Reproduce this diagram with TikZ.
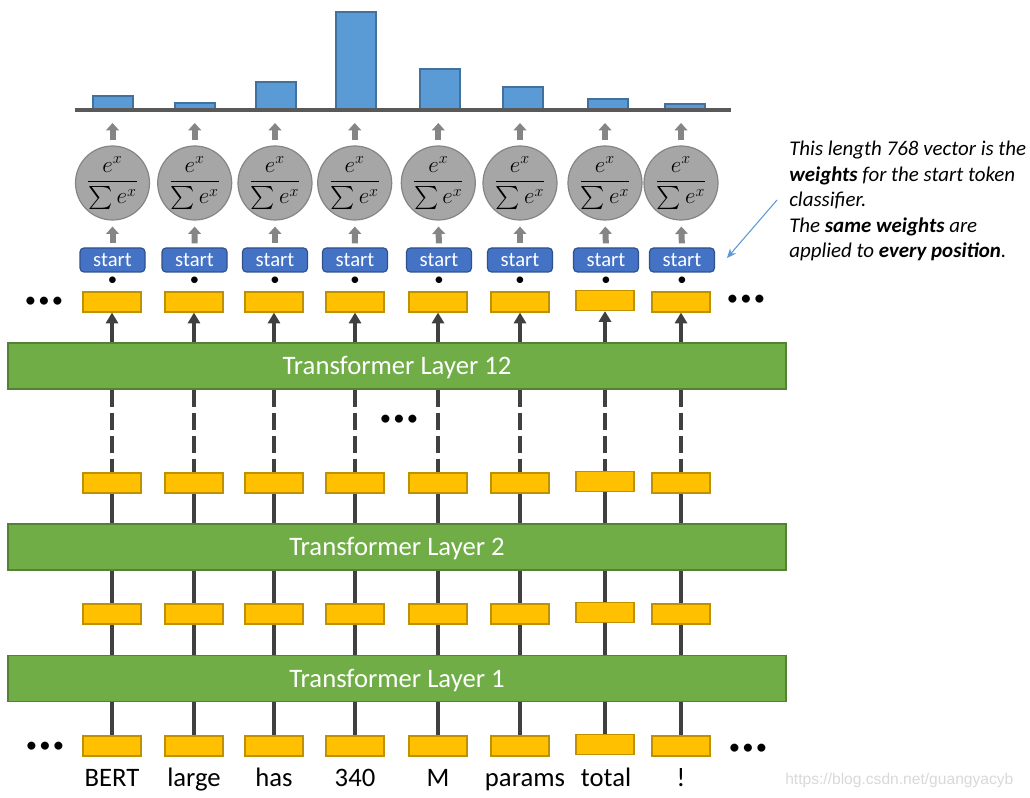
\documentclass[tikz,border=0pt]{standalone}
\usepackage{amsmath}
\usepackage{fontspec}
\setmainfont{Carlito}
\newfontfamily\wmfont{Liberation Sans}
\usetikzlibrary{arrows.meta,backgrounds,calc}
\definecolor{ygold}{HTML}{FFC000}
\definecolor{ygoldd}{HTML}{BF9000}
\definecolor{lgreen}{HTML}{70AD47}
\definecolor{lgreend}{HTML}{548235}
\definecolor{sblue}{HTML}{4472C4}
\definecolor{sblued}{HTML}{2F528F}
\definecolor{barblue}{HTML}{5B9BD5}
\definecolor{barblued}{HTML}{41719C}
\definecolor{lined}{HTML}{404040}
\definecolor{circg}{HTML}{A6A6A6}
\definecolor{circgd}{HTML}{858585}
\newcommand\mydots{\textbullet\hspace{0.1em}\textbullet\hspace{0.1em}\textbullet}
\begin{document}
\begin{tikzpicture}[x=0.75pt,y=-0.75pt,
 vecbox/.style={draw=ygoldd, fill=ygold, line width=0.9pt, minimum width=43.5pt, minimum height=15pt, inner sep=0},
 layerbox/.style={draw=lgreend, fill=lgreen, line width=1pt, minimum width=583.5pt, minimum height=34.5pt, inner sep=0, text=white, text height=13pt, text depth=0pt, font=\fontsize{20}{24}\selectfont},
 startbox/.style={draw=sblued, fill=sblue, line width=0.9pt, rounded corners=3pt, minimum width=48.75pt, minimum height=18pt, inner sep=0, text=white, text height=9.5pt, text depth=0pt, font=\fontsize{15.5}{18}\selectfont},
 softmax/.style={circle, draw=circgd, fill=circg, line width=0.9pt, minimum size=55.5pt, inner sep=0, font=\fontsize{18}{20}\selectfont},
 flow/.style={draw=lined, line width=3pt},
 flowdash/.style={flow, dash pattern=on 12.75pt off 4.5pt},
 flowarrow/.style={flow, -{Triangle[width=9pt,length=8pt]}},
 grayarrow/.style={draw=black!48, line width=4.5pt, -{Triangle[width=9.5pt,length=5.5pt]}},
 word/.style={anchor=base, font=\fontsize{20}{24}\selectfont, inner sep=0},
 dotsnode/.style={font=\fontsize{17}{18}\selectfont, inner sep=0},
 dotnode/.style={font=\fontsize{14}{16}\selectfont, inner sep=0},
 bar/.style={draw=barblued, fill=barblue, line width=0.9pt},
]
\useasboundingbox (0,0) rectangle (1030,798);

% bar chart
\foreach \bx/\bt in {113/96,195/103,276/82,356/12,440/69,523/87,608/99,685/104}
  \draw[bar] (\bx-20,110) rectangle (\bx+20,\bt);
\draw[draw=black!65, line width=2.3pt] (75,110) -- (731,110);

% softmax circles, start boxes, dots
\foreach \i/\cx/\sx in {1/112.5/112.5,2/194.7/194.5,3/275/275,4/354.7/355,5/438.3/439,6/520/520,7/605/606,8/681/682} {
  \node[softmax] (c\i) at (\cx,183) {$\dfrac{e^x}{\sum e^x}$};
  \node[startbox] (s\i) at (\sx,260) {start};
  \node[dotnode] (d\i) at (\sx,281) {\textbullet};
  \coordinate (p\i) at (\cx,110);
  \draw[grayarrow, shorten <=3.75pt, shorten >=9.75pt] (c\i.north) -- (p\i);
  \draw[grayarrow, shorten <=3pt, shorten >=4.5pt] (s\i.north) -- (c\i.south);
}

% vector boxes
\foreach \i/\x/\o in {1/112/0,2/194/0,3/274/0,4/355/0,5/438/0,6/520/0,7/605/-1.5,8/681/0} {
  \node[vecbox] (b0\i) at (\x,746+\o) {};
  \node[vecbox] (b1\i) at (\x,614+\o) {};
  \node[vecbox] (b2\i) at (\x,483+\o) {};
  \node[vecbox] (t\i) at (\x,302+\o) {};
}

% transformer layers
\node[layerbox] (L1) at (397,678.5) {Transformer Layer 1};
\node[layerbox] (L2) at (397,547) {Transformer Layer 2};
\node[layerbox] (L12) at (397,366) {Transformer Layer 12};

\begin{pgfonlayer}{background}
  \fill[white] (0,0) rectangle (1030,798);
  \foreach \i in {1,...,8} {
    \draw[flow] (b0\i.center) -- (b1\i.center);
    \draw[flow] (b1\i.center) -- (b2\i.center);
  }
\end{pgfonlayer}
\foreach \i in {1,...,8} {
  \draw[flowdash] (L12.south -| b2\i) -- (b2\i.north);
  \draw[flowarrow] (L12.north -| t\i) -- (t\i.south);
}

% ellipses
\node[dotsnode] (e1) at (44,302) {\mydots};
\node[dotsnode] (e2) at (746,300) {\mydots};
\node[dotsnode] (e3) at (399,420) {\mydots};
\node[dotsnode] (e4) at (45,747) {\mydots};
\node[dotsnode] (e5) at (748,749) {\mydots};

% words
\foreach \i/\x/\w in {1/112/BERT,2/194/large,3/274/has,4/355/340,5/438/M,6/525/params,7/606/total,8/681/!}
  \node[word] (w\i) at (\x,786) {\w};

% annotation
\node[anchor=north west, align=left, inner sep=0, font=\fontsize{15.7}{19.1}\selectfont\itshape] (ann) at (789,141)
  {This length 768 vector is the\\ \textbf{weights} for the start token\\ classifier.\\ The \textbf{same weights} are\\ applied to \textbf{every position}.};
\coordinate (annfrom) at (777,200);
\coordinate (annto) at (727,258);
\draw[draw=barblue, line width=0.8pt, -{Stealth[length=7pt,width=6pt]}] (annfrom) -- (annto);

% watermark
\node[anchor=base west, font=\wmfont\fontsize{11.7}{14}\selectfont, text=black!15, inner sep=0] (wm) at (785,784) {https://blog.csdn.net/guangyacyb};
\end{tikzpicture}
\end{document}
